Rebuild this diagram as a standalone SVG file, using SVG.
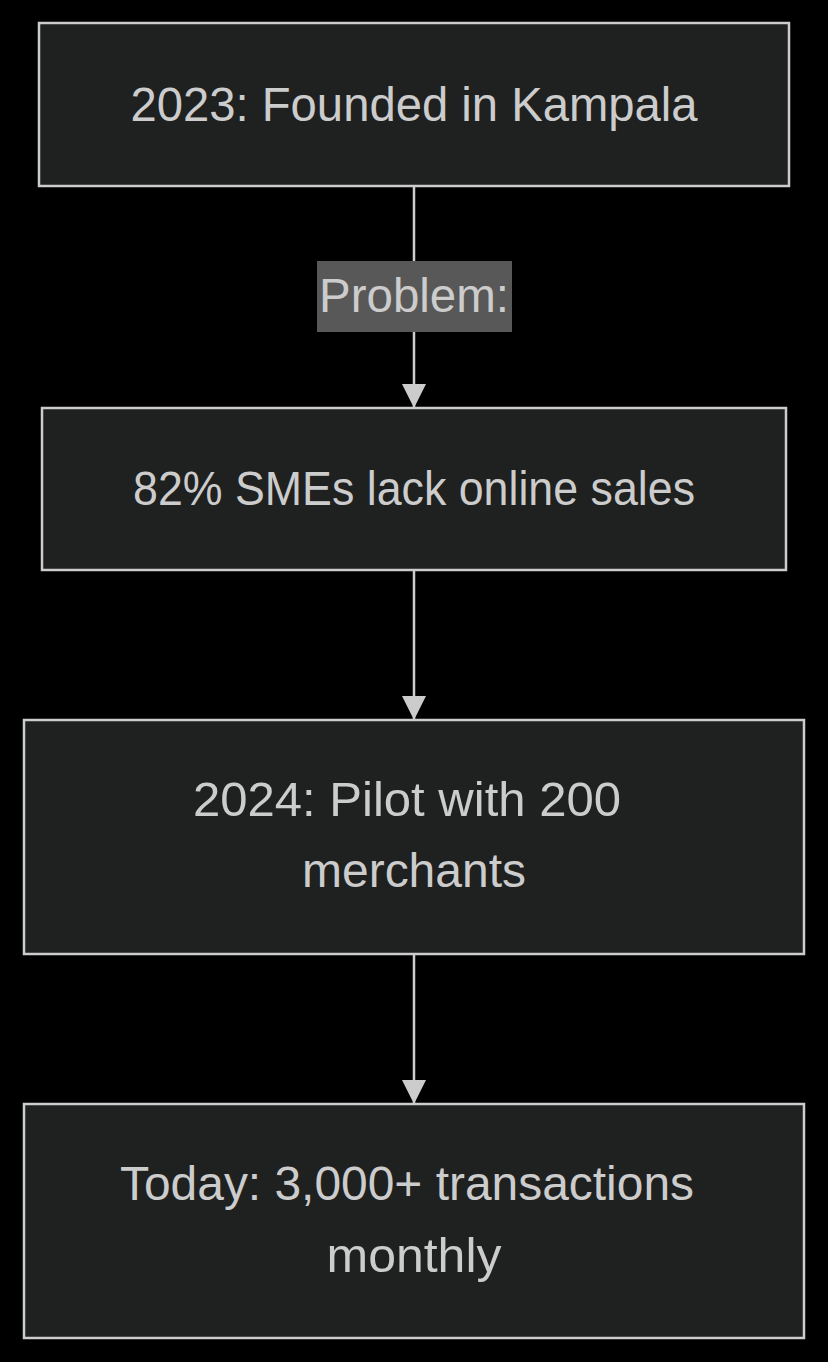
<svg xmlns="http://www.w3.org/2000/svg" width="828" height="1362" viewBox="0 0 828 1362">
  <style>
    .node rect { fill: #1f2020; stroke: #cccccc; stroke-width: 2.5; }
    .node text, .edge-label text { font-family: "Liberation Sans", "DejaVu Sans", sans-serif; font-size: 48px; fill: #cccccc; text-anchor: middle; }
    .edge-label rect { fill: #585858; }
    .flow { stroke: #cccccc; stroke-width: 2.5; fill: none; }
  </style>
  <defs>
    <marker id="arrow" markerUnits="userSpaceOnUse" markerWidth="26" markerHeight="24" refX="24" refY="12" orient="auto">
      <path d="M0,0 L24,12 L0,24 Z" fill="#cccccc"/>
    </marker>
  </defs>
  <rect width="828" height="1362" fill="#000000"/>

  <g id="connectors">
    <line class="flow" x1="414" y1="186" x2="414" y2="408" marker-end="url(#arrow)"/>
    <line class="flow" x1="414" y1="570" x2="414" y2="720" marker-end="url(#arrow)"/>
    <line class="flow" x1="414" y1="954" x2="414" y2="1104" marker-end="url(#arrow)"/>
    <g class="edge-label" id="label-problem">
      <rect x="317" y="261" width="195" height="71"/>
      <text x="414" y="312" textLength="190" lengthAdjust="spacingAndGlyphs">Problem:</text>
    </g>
  </g>

  <g class="node" id="founded">
    <rect x="39" y="23" width="750" height="163"/>
    <text x="414" y="121" textLength="567" lengthAdjust="spacingAndGlyphs">2023: Founded in Kampala</text>
  </g>

  <g class="node" id="problem">
    <rect x="42" y="408" width="744" height="162"/>
    <text x="414" y="505" textLength="562" lengthAdjust="spacingAndGlyphs">82% SMEs lack online sales</text>
  </g>

  <g class="node" id="pilot">
    <rect x="24" y="720" width="780" height="234"/>
    <text x="407" y="816" textLength="428" lengthAdjust="spacingAndGlyphs">2024: Pilot with 200</text>
    <text x="414" y="887" textLength="224" lengthAdjust="spacingAndGlyphs">merchants</text>
  </g>

  <g class="node" id="today">
    <rect x="24" y="1104" width="780" height="234"/>
    <text x="407" y="1200" textLength="574" lengthAdjust="spacingAndGlyphs">Today: 3,000+ transactions</text>
    <text x="414" y="1272" textLength="175" lengthAdjust="spacingAndGlyphs">monthly</text>
  </g>
</svg>
